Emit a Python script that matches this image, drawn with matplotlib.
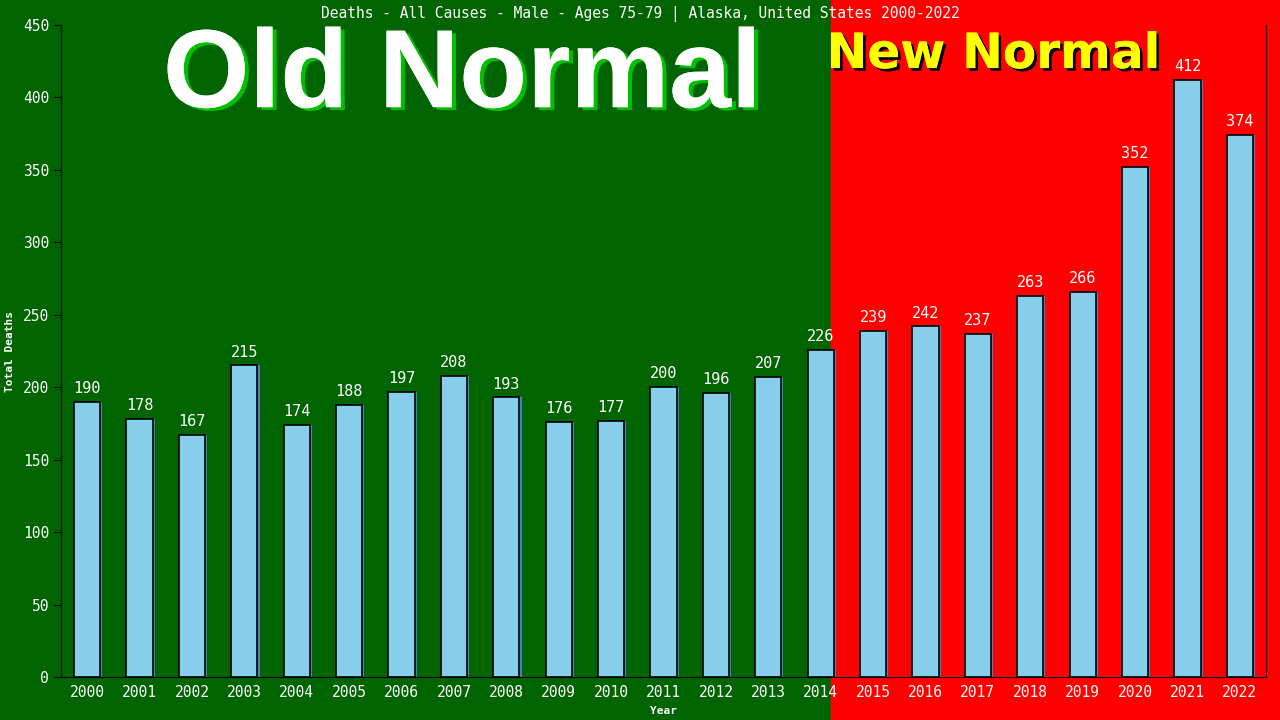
import matplotlib
matplotlib.use("Agg")
import matplotlib.pyplot as plt
import matplotlib.patheffects as pe
from matplotlib.patches import Rectangle

# data
years = [str(y) for y in range(2000, 2023)]
deaths = [190, 178, 167, 215, 174, 188, 197, 208, 193, 176, 177, 200,
          196, 207, 226, 239, 242, 237, 263, 266, 352, 412, 374]
split_at = 14.2  # where "new normal" background starts

mono = 'DejaVu Sans Mono'

fig = plt.figure(figsize=(12.8, 7.2), dpi=100, facecolor='#006400')
ax = fig.add_axes([61/1280, 43/720, 1205/1280, 652/720])
ax.set_facecolor('none')

x = list(range(len(years)))
ax.bar([i + 0.04 for i in x], deaths, width=0.5, color='#4682b4', zorder=2)
ax.bar(x, deaths, width=0.5, color='#87ceeb', edgecolor='black', linewidth=1.2, zorder=3)
for i, v in zip(x, deaths):
    ax.text(i, v + 4, str(v), ha='center', va='bottom', color='white',
            fontsize=11, family=mono, zorder=4)

ax.set_xlim(-0.5, len(years) - 0.5)
ax.set_ylim(0, 450)
ax.set_xticks(x)
ax.set_xticklabels(years)
ax.set_yticks(range(0, 451, 50))
ax.tick_params(axis='y', colors='black', labelcolor='white', labelsize=10.5, length=5)
ax.tick_params(axis='x', length=0, labelcolor='white', labelsize=10.5, pad=6)
for lab in ax.get_xticklabels() + ax.get_yticklabels():
    lab.set_family(mono)
for s in ['left', 'bottom', 'right']:
    ax.spines[s].set_color('black')
ax.spines['top'].set_visible(False)

ax.set_xlabel('Year', color='white', fontsize=8, family=mono, fontweight='bold', labelpad=4)
ax.set_ylabel('Total Deaths', color='white', fontsize=8, family=mono, fontweight='bold', labelpad=6)

fig.text(0.5, 0.981, 'Deaths - All Causes - Male - Ages 75-79 | Alaska, United States 2000-2022',
         ha='center', va='center', color='white', fontsize=10.5, family=mono)

# red background from the split position to the right edge
fig.canvas.draw()
xb = ax.transData.transform((split_at, 0))[0] / fig.bbox.width
fig.patches.append(Rectangle((xb, 0), 1 - xb, 1, transform=fig.transFigure,
                             color='#ff0000', zorder=-1))

ax.text(0.333, 0.874, 'Old Normal', transform=ax.transAxes, ha='center', va='baseline',
        color='white', fontsize=80, fontweight='bold', family='Liberation Sans',
        path_effects=[pe.withSimplePatchShadow(offset=(3, -2), shadow_rgbFace='#00c000', alpha=1),
                      pe.Normal()], zorder=1)
ax.text(0.774, 0.934, 'New Normal', transform=ax.transAxes, ha='center', va='baseline',
        color='#ffff00', fontsize=35, fontweight='bold', family='DejaVu Sans',
        path_effects=[pe.withSimplePatchShadow(offset=(2, -2), shadow_rgbFace='black', alpha=1),
                      pe.Normal()], zorder=1)

fig.savefig('out.png', dpi=100, facecolor=fig.get_facecolor())
